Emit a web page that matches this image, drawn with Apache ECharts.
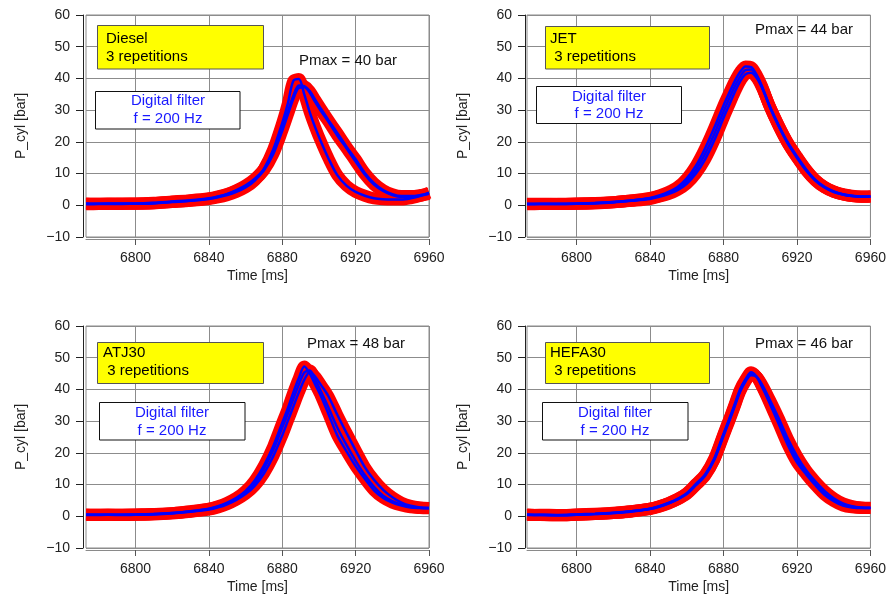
<!DOCTYPE html>
<html>
<head>
<meta charset="utf-8">
<script src="https://cdn.jsdelivr.net/npm/echarts@6/dist/echarts.min.js"></script>
<style>html,body{margin:0;padding:0;background:#fff;}#c{width:889px;height:599px;}</style>
</head>
<body>
<div id="c"></div>
<script>
// ---------- data ----------
const timeMs = [6773, 6780, 6790, 6800, 6810, 6820, 6830, 6840, 6845, 6850, 6855, 6860, 6865, 6870, 6875, 6880, 6883, 6886, 6889, 6892, 6895, 6898, 6901, 6905, 6910, 6915, 6920, 6925, 6930, 6935, 6940, 6945, 6950, 6955, 6960];
const xTicks = [6800, 6840, 6880, 6920, 6960];
const panelNames = ['Diesel', 'JET', 'ATJ30', 'HEFA30'];
const pmaxLabels = ['Pmax = 40 bar', 'Pmax = 44 bar', 'Pmax = 48 bar', 'Pmax = 46 bar'];

const dieselRep1 = [0.5,0.5,0.4,0.5,0.6,1.0,1.4, 2.0,2.5,3.2,4.2,5.6,7.8,11.5,17.5,26, 32,39.2,39.8,35,29.3,24.5,20.2, 15,9.5,6.2,4.2,3.0,2.2,1.9,1.8,1.8,2.2,2.9,4.0];
const dieselRep2 = [0.3,0.4,0.5,0.5,0.7,1.1,1.5, 2.1,2.7,3.5,4.6,6.0,8.0,11.0,16.0,23.5, 28.5,33.5,37.0,37.2,35.5,32.5,29.8, 26.5,22,18,13.8,9.7,6.5,4.5,3.2,2.6,2.6,3.0,3.6];
const dieselRep3 = [0.6,0.5,0.6,0.6,0.8,1.2,1.6, 2.2,2.8,3.6,4.8,6.3,8.4,11.4,16.8,24.5, 29.5,34.5,37.8,37.6,36,33.2,30.5, 27,22.8,18.5,14.5,10.2,7,4.8,3.5,2.9,2.9,3.2,3.8];

const jetRep1 = [0.4,0.4,0.4,0.5,0.7,1.0,1.5, 2.3,3.1,4.2,5.8,8.5,12.5,18,24.5,31.5, 35.3,39,42,43.8,43.6,41.2,37.5, 31.3,25,19.5,15,11,7.8,5.6,4.2,3.4,2.9,2.7,2.8];
const jetRep2 = [0.3,0.4,0.5,0.5,0.6,0.9,1.4, 2.0,2.7,3.5,4.8,6.8,10,14.5,20.5,27.5, 31.5,35.5,39,41.3,41.8,40.2,37, 31.5,25.3,19.8,15.4,11.3,8.0,5.8,4.4,3.5,3.0,2.8,2.8];
const jetRep3 = [0.5,0.5,0.4,0.6,0.7,1.0,1.5, 2.2,2.9,3.8,5.3,7.6,11.2,16.2,22.5,29.5, 33.5,37.3,40.5,42.6,42.8,40.8,37.3, 31.4,25.1,19.6,15.2,11.1,7.9,5.7,4.3,3.4,2.9,2.7,2.8];

const atjRep1 = [0.5,0.5,0.4,0.5,0.7,1.0,1.6, 2.4,3.2,4.3,5.8,8.0,11.3,16,22,29.5, 34,39,43.5,47.2,45,41.5,38, 32.5,25.5,20.5,15.8,11.8,8.2,5.8,4.3,3.4,2.8,2.6,2.5];
const atjRep2 = [0.4,0.4,0.5,0.5,0.6,0.9,1.4, 2.1,2.8,3.8,5.2,7.0,9.6,13.5,18.8,25.5, 30,34.5,39,43,45.5,44,41.5, 38,32,26.3,20.8,15.5,11.5,8.3,6,4.3,3.3,2.8,2.6];
const atjRep3 = [0.6,0.5,0.5,0.6,0.7,1.0,1.5, 2.3,3.0,4.0,5.5,7.5,10.5,15,20.8,28, 32.3,37,41.5,45.3,46,43,39.5, 34.5,28,22.5,17.5,13,9.3,6.5,4.8,3.7,3.0,2.7,2.6];

const hefaRep1 = [0.5,0.4,0.3,0.5,0.7,1.0,1.6, 2.4,3.2,4.2,5.5,7.3,10.2,13.2,18.3,26, 30.5,35.2,40,43.2,45.4,44,40.8, 35.8,29.2,22.5,17,13.2,9.8,6.8,4.8,3.4,2.8,2.6,2.6];
const hefaRep2 = [0.4,0.5,0.4,0.6,0.8,1.1,1.6, 2.3,3.0,4.0,5.3,7.0,9.8,12.8,17.8,25.3, 29.8,34.5,39.2,42.5,44.5,44,41.5, 37,31,24.5,19,14.5,11,8,5.7,4.1,3.2,2.8,2.7];
const hefaRep3 = [0.6,0.4,0.3,0.5,0.7,1.0,1.5, 2.4,3.1,4.1,5.4,7.2,10,13,18,25.7, 30.2,34.8,39.6,42.8,45,44,41, 36.3,30,23.3,17.8,13.7,10.3,7.3,5.1,3.7,3.0,2.7,2.6];

const panelReps = [
  [dieselRep1, dieselRep2, dieselRep3],
  [jetRep1, jetRep2, jetRep3],
  [atjRep1, atjRep2, atjRep3],
  [hefaRep1, hefaRep2, hefaRep3]
];

// ---------- layout ----------
const FONT = 'Liberation Sans, Arial, sans-serif';
const grids = [
  {left: 86, top: 15, width: 343, height: 222},
  {left: 527, top: 15, width: 344, height: 222},
  {left: 86, top: 326, width: 343, height: 222},
  {left: 527, top: 326, width: 344, height: 222}
];
const yOffsets = [3, 2, 3, 2];

const chart = echarts.init(document.getElementById('c'), null, {renderer: 'canvas'});

const xAxes = [], yAxes = [], series = [];
grids.forEach((g, i) => {
  xAxes.push({
    gridIndex: i, type: 'value', min: 6773, max: 6960, offset: 2,
    axisLine: {show: true, onZero: false, lineStyle: {color: '#8a8a8a', width: 1}},
    axisTick: {show: true, customValues: xTicks, length: 6, lineStyle: {color: '#555'}},
    axisLabel: {customValues: xTicks, fontSize: 14, color: '#222', margin: 12, fontFamily: FONT,
      formatter: v => String(v)},
    splitLine: {show: true, lineStyle: {color: '#8c8c8c', width: 1}},
    name: 'Time [ms]', nameLocation: 'middle', nameGap: 30,
    nameTextStyle: {fontSize: 14, color: '#222', fontFamily: FONT}
  });
  yAxes.push({
    gridIndex: i, type: 'value', min: -10, max: 60, interval: 10, offset: yOffsets[i],
    axisLine: {show: true, lineStyle: {color: '#222', width: 1}},
    axisTick: {show: true, length: 7, lineStyle: {color: '#222'}},
    axisLabel: {fontSize: 14, color: '#222', margin: 13, fontFamily: FONT,
      formatter: v => v < 0 ? '\u2212' + Math.abs(v) : String(v)},
    splitLine: {show: true, lineStyle: {color: '#8c8c8c', width: 1}},
    name: 'P_cyl [bar]', nameLocation: 'middle', nameGap: 55, nameRotate: 90,
    nameTextStyle: {fontSize: 14, color: '#222', fontFamily: FONT}
  });
});

const zip = arr => timeMs.map((t, k) => [t, arr[k]]);
panelReps.forEach((reps, i) => {
  reps.forEach(r => series.push({
    type: 'line', xAxisIndex: i, yAxisIndex: i, data: zip(r), showSymbol: false,
    smooth: 0.3, silent: true, lineStyle: {color: '#ff0000', width: 12, join: 'round'}, z: 2
  }));
});
panelReps.forEach((reps, i) => {
  reps.forEach(r => series.push({
    type: 'line', xAxisIndex: i, yAxisIndex: i, data: zip(r), showSymbol: false,
    smooth: 0.3, silent: true, lineStyle: {color: '#0000ff', width: 2.5}, z: 3
  }));
});

// ---------- annotation boxes ----------
const yellowBoxes = [
  {x: 97.5, y: 25.5, w: 166, h: 43.5, tx: 106, l1: 'Diesel', l2: '3 repetitions', y1: 39, y2: 56.7},
  {x: 545.5, y: 26.5, w: 164, h: 42.5, tx: 550, l1: 'JET', l2: ' 3 repetitions', y1: 39, y2: 56.7},
  {x: 97.5, y: 342.5, w: 166, h: 41, tx: 103, l1: 'ATJ30', l2: ' 3 repetitions', y1: 353.3, y2: 370.7},
  {x: 545.5, y: 342.5, w: 164, h: 41, tx: 550, l1: 'HEFA30', l2: ' 3 repetitions', y1: 353.3, y2: 370.7}
];
const filterBoxes = [
  {x: 95.5, y: 91.5, w: 144.5, h: 37.5, cx: 168, y1: 100.7, y2: 119},
  {x: 536.5, y: 86.5, w: 145, h: 37, cx: 609, y1: 96.7, y2: 114.3},
  {x: 99.5, y: 402.5, w: 145.5, h: 37.5, cx: 172, y1: 412.7, y2: 430.7},
  {x: 542.5, y: 402.5, w: 145.5, h: 37.5, cx: 615, y1: 412.7, y2: 430.7}
];
const pmaxPos = [[299, 61], [755, 30], [307, 344.3], [755, 344.3]];

const graphics = [];
const txt = (x, y, text, fill, align, size, z) => ({
  type: 'text', x: x, y: y, z: z || 12, silent: true,
  style: {text: text, fill: fill, font: size + 'px ' + FONT, align: align, verticalAlign: 'middle'}
});
yellowBoxes.forEach(b => {
  graphics.push({type: 'rect', z: 10, silent: true, shape: {x: b.x, y: b.y, width: b.w, height: b.h},
    style: {fill: '#ffff00', stroke: '#555', lineWidth: 1}});
  graphics.push(txt(b.tx, b.y1, b.l1, '#000', 'left', 15));
  graphics.push(txt(b.tx, b.y2, b.l2, '#000', 'left', 15));
});
// partially hidden label under the JET filter box
graphics.push(txt(577, 119, 'f = 200 Hz', '#1a1aff', 'center', 15, 9));
filterBoxes.forEach(b => {
  graphics.push({type: 'rect', z: 10, silent: true, shape: {x: b.x, y: b.y, width: b.w, height: b.h},
    style: {fill: '#ffffff', stroke: '#111', lineWidth: 1}});
  graphics.push(txt(b.cx, b.y1, 'Digital filter', '#1a1aff', 'center', 15));
  graphics.push(txt(b.cx, b.y2, 'f = 200 Hz', '#1a1aff', 'center', 15));
});
pmaxPos.forEach((p, i) => graphics.push(txt(p[0], p[1], pmaxLabels[i], '#111', 'left', 15)));

chart.setOption({
  animation: false,
  backgroundColor: '#ffffff',
  grid: grids.map(g => Object.assign({show: true, borderColor: '#8a8a8a', borderWidth: 1, backgroundColor: 'transparent'}, g)),
  xAxis: xAxes,
  yAxis: yAxes,
  series: series,
  graphic: graphics
});
</script>
</body>
</html>
